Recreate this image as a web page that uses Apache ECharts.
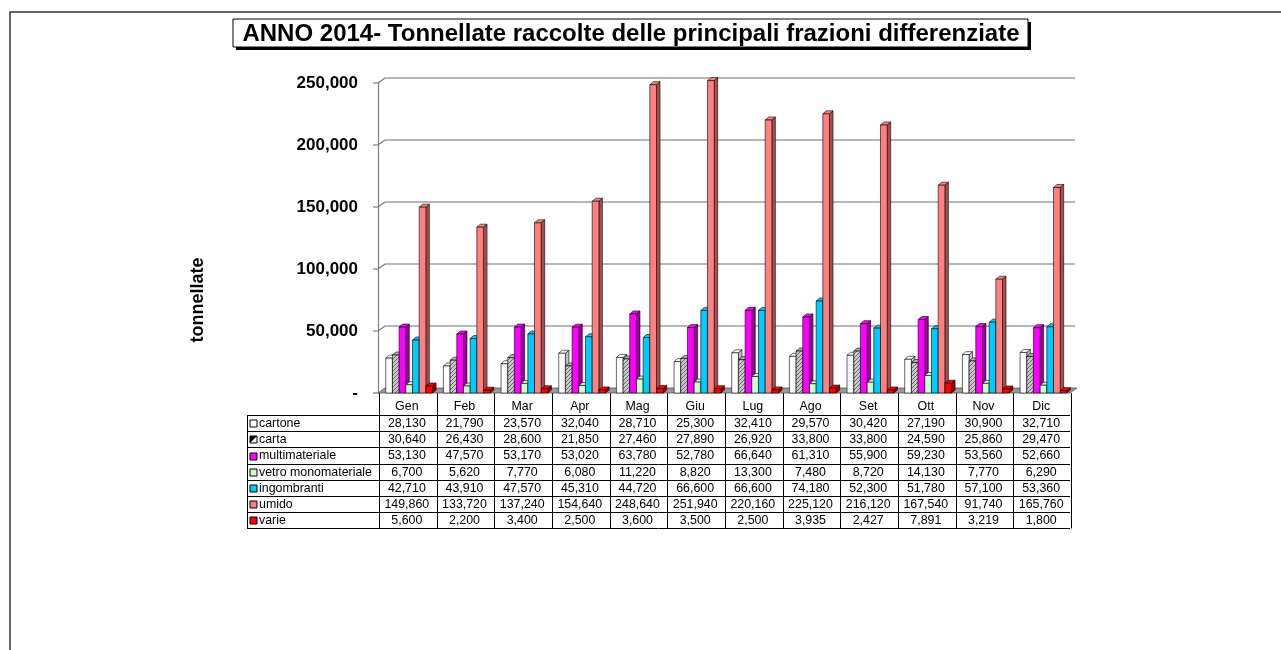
<!DOCTYPE html>
<html><head><meta charset="utf-8">
<script src="https://cdn.jsdelivr.net/npm/echarts@6/dist/echarts.min.js"></script>
<style>html,body{margin:0;padding:0;background:#fff}#c{width:1281px;height:650px}</style>
</head><body><div id="c"></div>
<script>
const months = ['Gen','Feb','Mar','Apr','Mag','Giu','Lug','Ago','Set','Ott','Nov','Dic'];
const seriesNames = ['cartone','carta','multimateriale','vetro monomateriale','ingombranti','umido','varie'];
const cartone = [28130,21790,23570,32040,28710,25300,32410,29570,30420,27190,30900,32710];
const carta = [30640,26430,28600,21850,27460,27890,26920,33800,33800,24590,25860,29470];
const multimateriale = [53130,47570,53170,53020,63780,52780,66640,61310,55900,59230,53560,52660];
const vetro = [6700,5620,7770,6080,11220,8820,13300,7480,8720,14130,7770,6290];
const ingombranti = [42710,43910,47570,45310,44720,66600,66600,74180,52300,51780,57100,53360];
const umido = [149860,133720,137240,154640,248640,251940,220160,225120,216120,167540,91740,165760];
const varie = [5600,2200,3400,2500,3600,3500,2500,3935,2427,7891,3219,1800];
const yTicks = [0,50000,100000,150000,200000,250000];

const allData = [cartone,carta,multimateriale,vetro,ingombranti,umido,varie];
const colors = ['#ffffff','#a6a6a6','#ff00ff','#ccffcc','#00ccff','#ff8080','#ff0000'];
const sideColors = ['#bfbfbf','#6e6e6e','#a000a0','#8fb38f','#0089ad','#a85050','#a00000'];

// hatch pattern for carta
const pc = document.createElement('canvas'); pc.width = 4; pc.height = 4;
const pctx = pc.getContext('2d');
pctx.fillStyle = '#c8c8c8'; pctx.fillRect(0,0,4,4);
pctx.fillStyle = '#6a6a6a';
pctx.fillRect(0,3,1,1); pctx.fillRect(1,2,1,1); pctx.fillRect(2,1,1,1); pctx.fillRect(3,0,1,1);
const hatch = {image: pc, repeat: 'repeat'};

const fmt = v => v.toLocaleString('en-US');
const DX = 3.5, DY = 3;

function barRender(sIdx){
  return function(params, api){
    const cat = api.value(0), val = api.value(1);
    const base = api.coord([cat, 0]);
    const top = api.coord([cat, val]);
    const bw = api.size([1,0])[0];
    const w = bw*0.116;
    const x = base[0] - bw/2 + bw*0.134 + sIdx*w;
    const yT = top[1], yB = base[1];
    const fill = sIdx === 1 ? hatch : colors[sIdx];
    const stroke = '#000';
    return {type:'group', children:[
      {type:'polygon', shape:{points:[[x+w,yT],[x+w+DX,yT-DY],[x+w+DX,yB-DY],[x+w,yB]]},
        style:{fill:sideColors[sIdx], stroke:stroke, lineWidth:0.6}},
      {type:'polygon', shape:{points:[[x,yT],[x+DX,yT-DY],[x+w+DX,yT-DY],[x+w,yT]]},
        style:{fill:sIdx===1?'#b0b0b0':colors[sIdx], stroke:stroke, lineWidth:0.6}},
      {type:'rect', shape:{x:x, y:yT, width:w, height:yB-yT},
        style:{fill:fill, stroke:stroke, lineWidth:0.6}}
    ]};
  };
}

function gridRender(params, api){
  const v = api.value(1);
  const cs = params.coordSys;
  const p = api.coord([0, v]);
  const y = p[1];
  const l = cs.x, r = cs.x + cs.width;
  if (v === 0){
    return {type:'group', children:[
      {type:'polygon', shape:{points:[[l,y],[r,y],[r+7,y-5],[l+7,y-5]]},
        style:{fill:'#9a9a9a', stroke:'#555', lineWidth:0.8}},
      {type:'line', shape:{x1:l-5,y1:y,x2:l,y2:y}, style:{stroke:'#555', lineWidth:1}}
    ]};
  }
  return {type:'group', children:[
    {type:'polyline', shape:{points:[[l-5,y],[l,y],[l+7,y-5],[r+5,y-5]]},
      style:{stroke:'#707070', lineWidth:1.2, fill:null}}
  ]};
}

const series = [{
  type:'custom', name:'grid', renderItem:gridRender, z:1, silent:true,
  data: yTicks.map(v => [0, v])
}];
allData.forEach((arr, i) => {
  series.push({type:'custom', name:seriesNames[i], renderItem:barRender(i), z:2+i,
    data: arr.map((v, j) => [j, v])});
});

const chart = echarts.init(document.getElementById('c'), null, {renderer:'canvas'});
const FONT = 'Liberation Sans, Arial, sans-serif';
const TF = '12.4px ' + FONT;
chart.setOption({
  animation:false,
  backgroundColor:'#fff',
  grid:{left:378, right:211, top:83, bottom:257},
  xAxis:{type:'category', data:months, boundaryGap:true,
    axisLine:{show:false}, axisTick:{show:false},
    axisLabel:{margin:8, color:'#000', fontSize:12.4, fontFamily:FONT}},
  yAxis:{type:'value', min:0, max:250000, interval:50000,
    axisLine:{show:true, lineStyle:{color:'#808080', width:1.2}},
    axisTick:{show:false},
    splitLine:{show:false},
    axisLabel:{margin:20, color:'#000', fontSize:17, fontWeight:'bold', fontFamily:FONT,
      formatter: v => v === 0 ? '-' : fmt(v)}},
  series: series
});

// table and decorations
const colL = 379, tableL = 247, rowTop = 415, rowH = 16.2;
const bandW = chart.convertToPixel({xAxisIndex:0}, 1) - chart.convertToPixel({xAxisIndex:0}, 0);
const colR = chart.convertToPixel({xAxisIndex:0}, months.length-1) + bandW/2;
const graphics = [];
// outer frame
graphics.push({type:'polyline', shape:{points:[[10,650],[10,12],[1281,12]]}, style:{stroke:'#333', lineWidth:1.5, fill:null}});
// title
graphics.push({type:'rect', shape:{x:236, y:22, width:795, height:28}, style:{fill:'#000'}});
graphics.push({type:'rect', shape:{x:233, y:19, width:795, height:28}, style:{fill:'#fff', stroke:'#000', lineWidth:1}});
graphics.push({type:'text', x:631, y:34, style:{text:'ANNO 2014- Tonnellate raccolte delle principali frazioni differenziate',
  font:'bold 24px '+FONT, fill:'#000', align:'center', verticalAlign:'middle'}});
// y axis title
graphics.push({type:'text', x:198, y:300, rotation:Math.PI/2, style:{text:'tonnellate',
  font:'bold 18px '+FONT, fill:'#000', align:'center', verticalAlign:'middle'}});
// table lines
const tableBottom = rowTop + rowH*seriesNames.length;
for (let r = 0; r <= seriesNames.length; r++){
  const y = Math.round(rowTop + r*rowH) + 0.5;
  graphics.push({type:'line', shape:{x1:tableL, y1:y, x2:colR, y2:y}, style:{stroke:'#000', lineWidth:1}});
}
graphics.push({type:'line', shape:{x1:tableL+0.5, y1:rowTop, x2:tableL+0.5, y2:tableBottom}, style:{stroke:'#000', lineWidth:1}});
for (let c = 0; c <= months.length; c++){
  const x = Math.round(colL + c*bandW) + 0.5;
  graphics.push({type:'line', shape:{x1:x, y1:393, x2:x, y2:tableBottom}, style:{stroke:'#000', lineWidth:1}});
}
seriesNames.forEach((name, r) => {
  const cy = rowTop + r*rowH + rowH/2 + 0.5;
  graphics.push({type:'rect', shape:{x:250, y:Math.round(cy-3.5), width:7, height:7},
    style:{fill: r===1 ? '#fff' : colors[r], stroke:'#000', lineWidth:1}});
  if (r === 1){
    const yy = Math.round(cy-3.5);
    graphics.push({type:'polygon', shape:{points:[[250,yy],[257,yy],[250,yy+7]]}, style:{fill:'#000'}});
  }
  graphics.push({type:'text', x:259, y:cy, style:{text:name, font:TF, fill:'#000', align:'left', verticalAlign:'middle'}});
  allData[r].forEach((v, j) => {
    const cx = chart.convertToPixel({xAxisIndex:0}, j);
    graphics.push({type:'text', x:cx, y:cy, style:{text:fmt(v), font:TF, fill:'#000', align:'center', verticalAlign:'middle'}});
  });
});
chart.setOption({graphic:{elements:graphics}});
</script>
</body></html>
